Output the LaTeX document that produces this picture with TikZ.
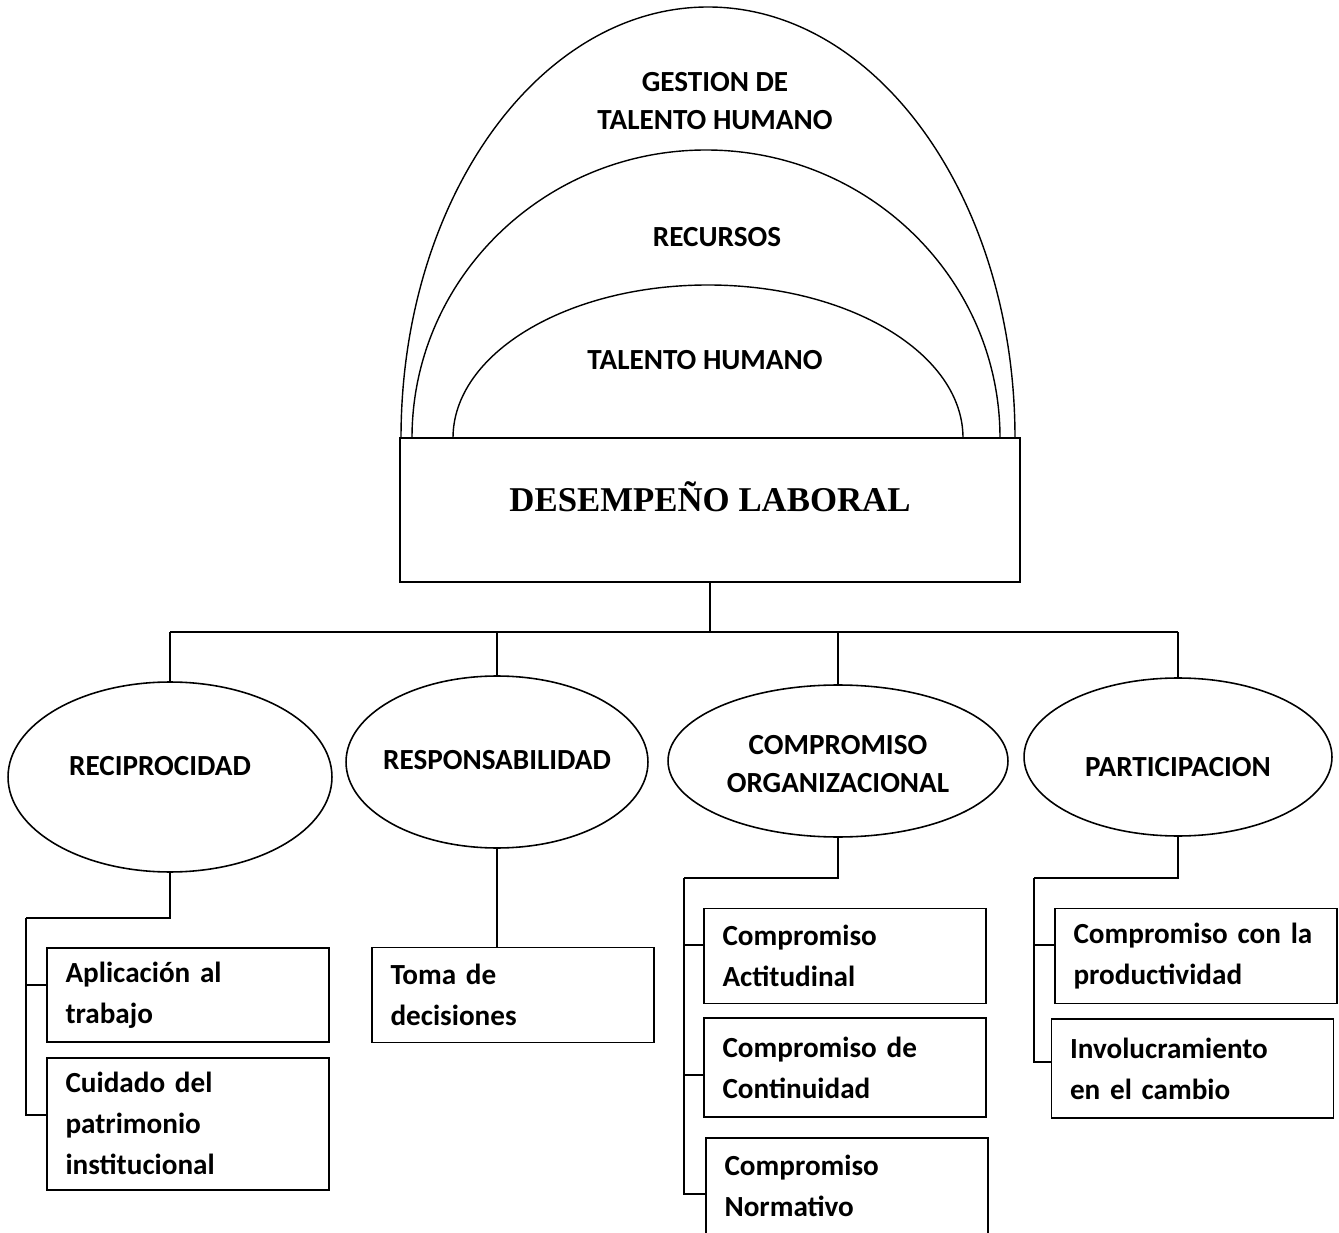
\documentclass[tikz,border=0pt]{standalone}
\usepackage{fontspec}
\setmainfont{Carlito}
\newfontfamily\serifbold{Liberation Serif}
\usepackage{tikz}
\usetikzlibrary{
    shapes.geometric,
    positioning,
    calc
}
\tikzstyle{mainbox} = [
    rectangle,
    draw,
    line width=1pt,
    minimum width=12.4cm,
    minimum height=2.88cm,
    inner sep=0pt
]
\tikzstyle{concept} = [
    ellipse,
    draw,
    line width=0.9pt,
    inner sep=0pt
]
\tikzstyle{ctext} = [
    align=center,
    font=\bfseries\fontsize{16.6}{21.6}\selectfont
]
\tikzstyle{item} = [
    rectangle,
    draw,
    line width=1pt,
    minimum width=5.64cm,
    text width=4.9cm,
    inner xsep=0.37cm,
    align=left,
    font=\bfseries\fontsize{16.6}{23.3}\selectfont
]
\tikzstyle{link} = [
    draw,
    line width=0.9pt
]
\tikzstyle{arch} = [
    draw,
    line width=0.8pt
]

\begin{document}
\begin{tikzpicture}[x=0.02cm, y=0.02cm]
        \useasboundingbox (0,0) rectangle (1339,1232);

        % Arcs
        \draw[arch] (401,794) arc[start angle=180, end angle=0, x radius=307, y radius=431];
        \draw[arch] (412,794) arc[start angle=180, end angle=0, x radius=294, y radius=288];
        \draw[arch] (453,794) arc[start angle=180, end angle=0, x radius=255, y radius=153];
        \node[ctext] (gth) at (715,1131) {GESTION DE\\TALENTO HUMANO};
        \node[ctext] (recur) at (717,995) {RECURSOS};
        \node[ctext] (talento) at (705,872) {TALENTO HUMANO};

        % Main box
        \node[mainbox, label={[yshift=0.26cm, font=\serifbold\bfseries\fontsize{19.8}{22}\selectfont]center:DESEMPEÑO LABORAL}] (lab) at (710,722) {};

        % Dimensions
        \node[concept, minimum width=6.48cm, minimum height=3.8cm, label={[ctext, xshift=-0.2cm, yshift=0.22cm]center:RECIPROCIDAD}] (rec) at (170,455) {};
        \node[concept, minimum width=6.04cm, minimum height=3.44cm, label={[ctext, yshift=0.04cm]center:RESPONSABILIDAD}] (res) at (497,470) {};
        \node[concept, minimum width=6.8cm, minimum height=3.04cm, label={[ctext, yshift=-0.06cm]center:COMPROMISO\\ORGANIZACIONAL}] (com) at (838,471) {};
        \node[concept, minimum width=6.16cm, minimum height=3.16cm, label={[ctext, yshift=-0.2cm]center:PARTICIPACION}] (par) at (1178,475) {};

        % Arrows
        \draw[link] (lab.south) -- ++(0,-49) coordinate (hub);
        \draw[link] (rec.north |- hub) -- (par.north |- hub);
        \foreach \c in {rec,res,com,par}
            \draw[link] (\c.north |- hub) -- (\c.north);

        % Indicators
        \node[item, minimum height=1.88cm] (apl) at (188,237) {Aplicación al\\trabajo};
        \node[item, minimum height=2.64cm, below=0.28cm of apl] (cui) {Cuidado del\\patrimonio\\institucional};
        \node[item, minimum height=1.9cm] (toma) at (513,237) {Toma de\\decisiones};
        \node[item, minimum height=1.9cm] (act) at (845,276) {Compromiso\\Actitudinal};
        \node[item, minimum height=1.98cm, below=0.26cm of act] (con) {Compromiso de\\Continuidad};
        \node[item, minimum height=1.92cm, below=0.38cm of con, xshift=0.04cm] (nor) {Compromiso\\Normativo};
        \node[item, minimum height=1.9cm] (prod) at (1196,276) {Compromiso con la\\productividad};
        \node[item, minimum height=1.98cm, below=0.28cm of prod, xshift=-0.07cm] (inv) {Involucramiento\\en el cambio};

        % Brackets
        \coordinate (recv) at (26,314);
        \coordinate (aplin) at ($(apl.west)+(0,10)$);
        \draw[link] (rec.south) |- (recv);
        \draw[link] (recv) |- ($(cui.west)+(0,9)$);
        \draw[link] (recv |- aplin) -- (aplin);

        \draw[link] (res.south) -- (res.south |- toma.north);

        \coordinate (comv) at (684,354);
        \coordinate (actin) at ($(act.west)+(0,11)$);
        \coordinate (conin) at ($(con.west)+(0,-7)$);
        \draw[link] (com.south) |- (comv);
        \draw[link] (comv) |- ($(nor.west)+(0,-8)$);
        \draw[link] (comv |- actin) -- (actin);
        \draw[link] (comv |- conin) -- (conin);

        \coordinate (parv) at (1034,354);
        \coordinate (prodin) at ($(prod.west)+(0,11)$);
        \draw[link] (par.south) |- (parv);
        \draw[link] (parv) |- ($(inv.west)+(0,7)$);
        \draw[link] (parv |- prodin) -- (prodin);
    \end{tikzpicture}
\end{document}
